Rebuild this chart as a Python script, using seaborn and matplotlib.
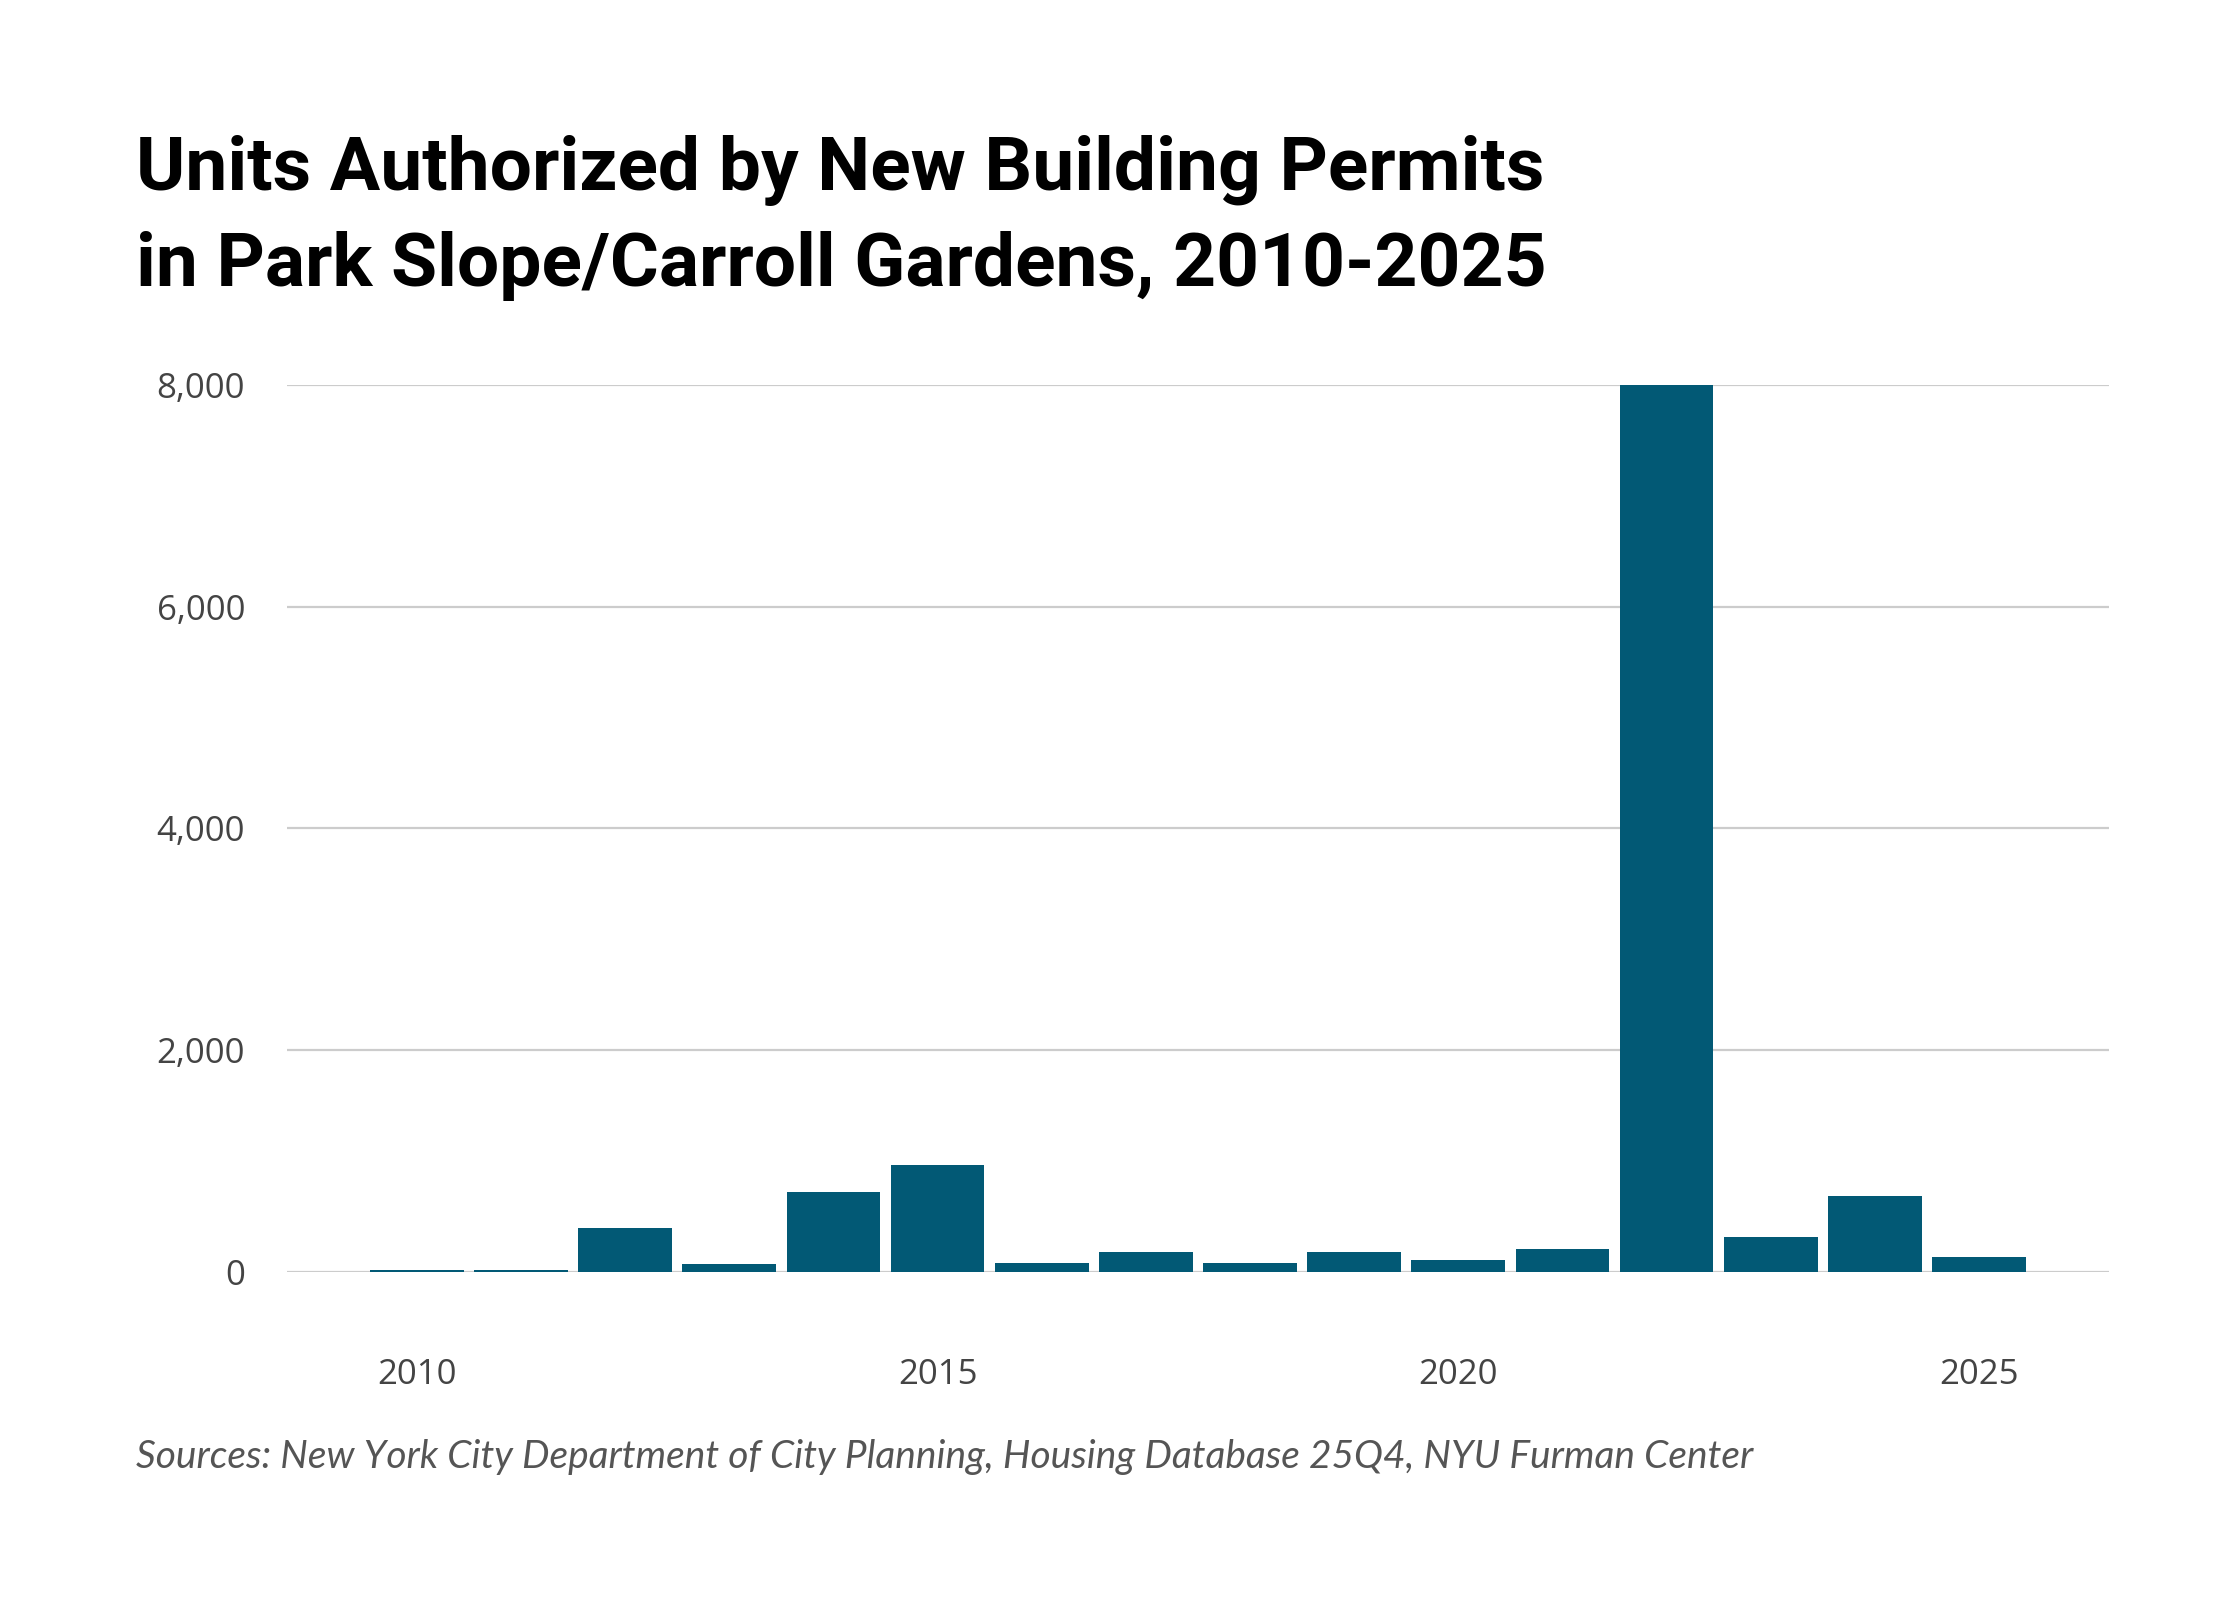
import numpy as np
import pandas as pd
import matplotlib
matplotlib.use("Agg")
import matplotlib.pyplot as plt
import seaborn as sns
from matplotlib.ticker import FuncFormatter

# Data
years = [2010, 2011, 2012, 2013, 2014, 2015, 2016, 2017,
         2018, 2019, 2020, 2021, 2022, 2023, 2024, 2025]
units = [15, 15, 397, 72, 721, 962, 81, 177,
         81, 177, 105, 204, 8000, 316, 682, 132]
year_ticks = [2010, 2015, 2020, 2025]
y_ticks = [0, 2000, 4000, 6000, 8000]

title_1 = "Units Authorized by New Building Permits"
title_2 = "in Park Slope/Carroll Gardens, 2010-2025"
source = "Sources: New York City Department of City Planning, Housing Database 25Q4, NYU Furman Center"

df = pd.DataFrame({"year": years, "units": units})

sns.set_theme(style="white")
plt.rcParams["font.family"] = ["Open Sans", "DejaVu Sans"]

fig = plt.figure(figsize=(11.2, 8), dpi=200)
ax = fig.add_axes([0.128, 0.205, 0.8136, 0.5544])

sns.barplot(data=df, x="year", y="units", native_scale=True, width=0.9,
            color="#025975", saturation=1, linewidth=0, ax=ax, zorder=3)

ax.set_xlim(2008.75, 2026.25)
ax.set_ylim(0, 8000)
ax.set_xticks(year_ticks)
ax.set_yticks(y_ticks)
ax.yaxis.set_major_formatter(FuncFormatter(lambda v, p: f"{int(v):,}"))
ax.grid(axis="y", color="#cccccc", linewidth=0.8, zorder=0)
ax.grid(axis="x", visible=False)
for s in ax.spines.values():
    s.set_visible(False)
ax.tick_params(axis="both", length=0, labelsize=12.5, labelcolor="#444444")
ax.tick_params(axis="y", pad=15)
ax.tick_params(axis="x", pad=31)
ax.set_xlabel("")
ax.set_ylabel("")

title_font = ["Roboto", "DejaVu Sans"]
fig.text(0.0607, 0.881, title_1, fontsize=27, fontweight="bold",
         family=title_font, color="#000000", va="baseline")
fig.text(0.0607, 0.821, title_2, fontsize=27, fontweight="bold",
         family=title_font, color="#000000", va="baseline")
fig.text(0.0607, 0.0825, source, fontsize=14, style="italic",
         family=["Lato", "DejaVu Sans"], color="#555555", va="baseline")

fig.savefig("out.png", dpi=200, facecolor="white")
